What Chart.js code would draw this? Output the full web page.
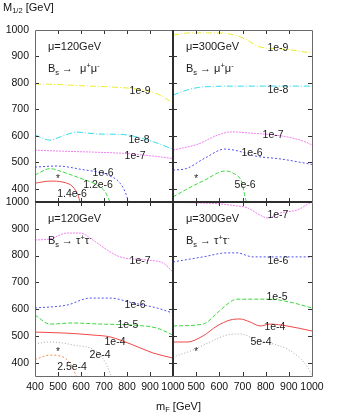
<!DOCTYPE html>
<html>
<head>
<meta charset="utf-8">
<script src="https://cdn.jsdelivr.net/npm/chart.js@4"></script>
<style>
  html, body { margin:0; padding:0; background:#fff; }
  #wrap { position:relative; width:346px; height:413px; overflow:hidden; }
  #wrap canvas { position:absolute; left:0; top:0; }
  .ttl { position:absolute; font-family: Arial, 'Liberation Sans', sans-serif; font-size:11px; color:#111; white-space:nowrap; }
  .ttl sub { font-size:7.5px; vertical-align:-2px; }
</style>
</head>
<body>
<div id="wrap">
  <canvas id="c1" width="346" height="413"></canvas>
  <canvas id="c2" width="346" height="413"></canvas>
  <canvas id="c3" width="346" height="413"></canvas>
  <canvas id="c4" width="346" height="413"></canvas>
  <div class="ttl" style="left:3px;top:1px;">M<sub>1/2</sub> [GeV]</div>
  <div class="ttl" style="left:156px;top:400px;">m<sub>F</sub> [GeV]</div>
</div>
<script>
// ---------- tick values ----------
const xTicksLeft  = [400, 500, 600, 700, 800, 900, 1000];
const xTicksRight = [500, 600, 700, 800, 900, 1000];
const yTicks      = [400, 500, 600, 700, 800, 900, 1000];
const xMarks      = [500, 600, 700, 800, 900];
const yMarks      = [400, 500, 600, 700, 800, 900];

// ---------- panel 1: mu=120 GeV, Bs -> mu+ mu- ----------
const p1_1e9   = [[400,796],[500,794],[609,789],[726,785],[870,773],[943,754],[1000,724]];
const p1_1e8   = [[400,603],[465,584],[509,596],[583,614],[670,607],[783,605],[887,585],[987,554],[1000,549]];
const p1_1e7   = [[400,546],[520,542],[670,538],[780,534],[930,522],[1000,514]];
const p1_1e6   = [[400,482],[495,486],[596,474],[713,452],[770,421],[800,369],[805,350]];
const p1_12e6  = [[400,452],[465,476],[522,463],[596,440],[670,414],[705,388],[726,350]];
const p1_14e6  = [[400,421],[465,429],[522,425],[565,407],[587,376],[596,350]];
const p1_labels = [["1e-9",857,770],["1e-8",852,584],["1e-7",835,524],["1e-6",696,460],["1.2e-6",674,414],["1.4e-6",561,380]];

// ---------- panel 2: mu=300 GeV, Bs -> mu+ mu- ----------
const p2_1e9 = [[400,981],[473,989],[603,989],[702,970],[775,936],[875,928],[1000,913]];
const p2_1e8 = [[400,754],[460,773],[530,785],[702,788],[1000,788]];
const p2_1e7 = [[400,546],[508,569],[594,603],[655,615],[724,611],[840,603],[914,592],[983,573],[1000,565]];
const p2_1e6 = [[400,471],[452,475],[538,516],[624,550],[680,543],[754,524],[870,512],[1000,492]];
const p2_5e6 = [[400,369],[452,395],[538,433],[624,467],[659,459],[698,422],[711,369],[719,346]];
const p2_labels = [["1e-9",853,932],["1e-8",853,772],["1e-7",832,603],["1e-6",741,535],["5e-6",711,414]];

// ---------- panel 3: mu=120 GeV, Bs -> tau+ tau- ----------
const p3_1e7  = [[400,858],[465,862],[539,884],[596,884],[652,858],[713,821],[770,795],[887,783],[957,772],[1000,738]];
const p3_1e6  = [[400,604],[539,615],[639,641],[726,641],[826,623],[930,604],[1000,585]];
const p3_1e5  = [[400,578],[465,544],[565,548],[683,544],[826,540],[930,529],[1000,503]];
const p3_1e4  = [[400,514],[539,510],[652,503],[726,496],[826,466],[913,436],[1000,417]];
const p3_2e4  = [[400,470],[465,477],[565,466],[670,440],[705,402],[726,361],[730,350]];
const p3_25e4 = [[400,412],[465,428],[522,421],[552,398],[574,361],[580,350]];
const p3_labels = [["1e-7",857,780],["1e-6",835,615],["1e-5",804,540],["1e-4",748,477],["2e-4",683,428],["2.5e-4",561,384]];

// ---------- panel 4: mu=300 GeV, Bs -> tau+ tau- ----------
const p4_1e7 = [[400,998],[500,997],[600,993],[680,985],[719,979],[776,951],[810,940],[862,959],[935,970],[991,996],[1000,1000]];
const p4_1e6 = [[400,776],[530,795],[633,810],[676,810],[745,795],[862,795],[1000,795]];
const p4_1e5 = [[400,537],[530,544],[590,585],[646,626],[676,637],[819,637],[905,626],[1000,604]];
const p4_1e4 = [[400,477],[460,477],[530,500],[590,537],[646,559],[689,563],[732,552],[776,537],[819,544],[892,537],[1000,518]];
const p4_5e4 = [[400,421],[486,447],[560,477],[633,503],[689,507],[763,485],[819,473],[892,451],[948,417],[983,380],[1000,354]];
const p4_labels = [["1e-7",853,951],["1e-6",853,780],["1e-5",849,645],["1e-4",840,533],["5e-4",780,477]];

const starPoint = [500, 445];

// ---------- styles ----------
const ST = {
  yellow:  {c:'#ecec2a', d:[6,2,1,2]},
  cyan:    {c:'#34dcec', d:[6,2,1,2]},
  magenta: {c:'#f27ff2', d:[2,1]},
  blue:    {c:'#5050f0', d:[2,2]},
  green:   {c:'#3cd83c', d:[4,2]},
  red:     {c:'#f04848', d:[]},
  gray:    {c:'#a8a8a8', d:[1,2]},
  orange:  {c:'#f88858', d:[2,2]}
};

function ds(arr, st) {
  return {
    data: arr.map(p => ({x:p[0], y:p[1]})),
    borderColor: st.c, borderWidth: 1, borderDash: st.d,
    pointRadius: 0, fill: false, cubicInterpolationMode: 'monotone', clip: 2
  };
}

const tickFont = {family: "'Liberation Sans Narrow', 'Arial Narrow', Arial, sans-serif", size: 10.5};

function drawDecay(ctx, x, y, particle, gap) {
  const big = '11px Arial, "Liberation Sans", sans-serif';
  const small = '7.5px Arial, "Liberation Sans", sans-serif';
  ctx.textAlign = 'left'; ctx.textBaseline = 'alphabetic';
  let cx = x;
  ctx.font = big; ctx.fillText('B', cx, y); cx += ctx.measureText('B').width;
  ctx.font = small; ctx.fillText('s', cx, y + 3); cx += ctx.measureText('s').width + 3;
  ctx.font = big; ctx.fillText('\u2192', cx, y); cx += ctx.measureText('\u2192').width + gap;
  ctx.fillText(particle, cx, y); cx += ctx.measureText(particle).width;
  ctx.font = small; ctx.fillText('+', cx, y - 4); cx += ctx.measureText('+').width;
  ctx.font = big; ctx.fillText(particle, cx, y); cx += ctx.measureText(particle).width;
  ctx.font = small; ctx.fillText('-', cx, y - 4);
}

function makePlugin(cfg) {
  return {
    id: 'panel' + cfg.id,
    afterDatasetsDraw(chart) {
      const {ctx, chartArea: a, scales: {x, y}} = chart;
      ctx.save();
      ctx.setLineDash([]);
      // inward tick marks on all four sides
      ctx.strokeStyle = '#333'; ctx.lineWidth = 1;
      ctx.beginPath();
      xMarks.forEach(v => {
        const px = Math.round(x.getPixelForValue(v)) + 0.5;
        ctx.moveTo(px, a.top); ctx.lineTo(px, a.top + 4);
        ctx.moveTo(px, a.bottom); ctx.lineTo(px, a.bottom - 4);
      });
      yMarks.forEach(v => {
        const py = Math.round(y.getPixelForValue(v)) + 0.5;
        ctx.moveTo(a.left, py); ctx.lineTo(a.left + 4, py);
        ctx.moveTo(a.right, py); ctx.lineTo(a.right - 4, py);
      });
      ctx.stroke();
      // frame
      const edge = (x1, y1, x2, y2, inner) => {
        ctx.beginPath();
        ctx.strokeStyle = inner ? '#2e2e2e' : '#6a6a6a';
        ctx.lineWidth = inner ? 2 : 1;
        const o = inner ? 0 : 0.5;
        ctx.moveTo(x1 + o, y1 + o); ctx.lineTo(x2 + o, y2 + o); ctx.stroke();
      };
      const L = a.left, R = a.right, T = a.top, B = a.bottom;
      edge(L, T, R, T, cfg.inner.includes('t'));
      edge(L, B, R, B, cfg.inner.includes('b'));
      edge(L, T, L, B, cfg.inner.includes('l'));
      edge(R, T, R, B, cfg.inner.includes('r'));
      // contour labels
      ctx.fillStyle = '#1a1a1a';
      ctx.font = '10.5px Arial, "Liberation Sans", sans-serif';
      ctx.textAlign = 'center'; ctx.textBaseline = 'middle';
      cfg.labels.forEach(l => ctx.fillText(l[0], x.getPixelForValue(l[1]), y.getPixelForValue(l[2])));
      // star
      ctx.font = '10px Arial, "Liberation Sans", sans-serif';
      ctx.fillText('*', x.getPixelForValue(starPoint[0]), y.getPixelForValue(starPoint[1]) + 2);
      // annotations
      ctx.font = '11px Arial, "Liberation Sans", sans-serif';
      ctx.textAlign = 'left'; ctx.textBaseline = 'middle';
      ctx.fillText('\u03bc=' + cfg.mu + 'GeV', a.left + 13, a.top + 17);
      drawDecay(ctx, a.left + 13, a.top + 42, cfg.particle, cfg.gap);
      ctx.restore();
    }
  };
}

function makeChart(id, cfg) {
  const xTickVals = cfg.xLabels ? cfg.xLabels : xTicksLeft;
  new Chart(document.getElementById(id), {
    type: 'line',
    data: { datasets: cfg.datasets },
    options: {
      responsive: false, animation: false, devicePixelRatio: 1,
      layout: { padding: cfg.padding },
      plugins: { legend: {display: false}, tooltip: {enabled: false}, title: {display: false} },
      scales: {
        x: {
          type: 'linear', min: 400, max: 1000,
          grid: {display: false, drawTicks: false}, border: {display: false},
          ticks: { display: !!cfg.xLabels, font: tickFont, color: '#111', padding: 5, maxRotation: 0, autoSkip: false,
                   callback: v => String(v) },
          afterBuildTicks: s => { s.ticks = xTickVals.map(v => ({value: v})); },
          afterFit: s => { s.height = cfg.xLabels ? 20 : 0; }
        },
        y: {
          type: 'linear', min: 350, max: 1000,
          grid: {display: false, drawTicks: false}, border: {display: false},
          ticks: { display: !!cfg.yLabels, font: tickFont, color: '#111', padding: 6, autoSkip: false,
                   callback: v => String(v) },
          afterBuildTicks: s => { s.ticks = yTicks.map(v => ({value: v})); },
          afterFit: s => { s.width = cfg.yLabels ? 35 : 0; }
        }
      }
    },
    plugins: [makePlugin(cfg)]
  });
}

makeChart('c1', {
  id: 1, mu: 120, particle: '\u03bc', gap: 7, inner: 'rb', yLabels: true, xLabels: null,
  padding: {left: 0, top: 30, right: 173, bottom: 211},
  labels: p1_labels,
  datasets: [ds(p1_1e9, ST.yellow), ds(p1_1e8, ST.cyan), ds(p1_1e7, ST.magenta), ds(p1_1e6, ST.blue), ds(p1_12e6, ST.green), ds(p1_14e6, ST.red)]
});
makeChart('c2', {
  id: 2, mu: 300, particle: '\u03bc', gap: 3, inner: 'lb', yLabels: false, xLabels: null,
  padding: {left: 173, top: 30, right: 34, bottom: 211},
  labels: p2_labels,
  datasets: [ds(p2_1e9, ST.yellow), ds(p2_1e8, ST.cyan), ds(p2_1e7, ST.magenta), ds(p2_1e6, ST.blue), ds(p2_5e6, ST.green)]
});
makeChart('c3', {
  id: 3, mu: 120, particle: '\u03c4', gap: 3, inner: 'tr', yLabels: true, xLabels: xTicksLeft,
  padding: {left: 0, top: 202, right: 173, bottom: 17},
  labels: p3_labels,
  datasets: [ds(p3_1e7, ST.magenta), ds(p3_1e6, ST.blue), ds(p3_1e5, ST.green), ds(p3_1e4, ST.red), ds(p3_2e4, ST.gray), ds(p3_25e4, ST.orange)]
});
makeChart('c4', {
  id: 4, mu: 300, particle: '\u03c4', gap: 3, inner: 'tl', yLabels: false, xLabels: xTicksRight,
  padding: {left: 173, top: 202, right: 34, bottom: 17},
  labels: p4_labels,
  datasets: [ds(p4_1e7, ST.magenta), ds(p4_1e6, ST.blue), ds(p4_1e5, ST.green), ds(p4_1e4, ST.red), ds(p4_5e4, ST.gray)]
});
</script>
</body>
</html>
